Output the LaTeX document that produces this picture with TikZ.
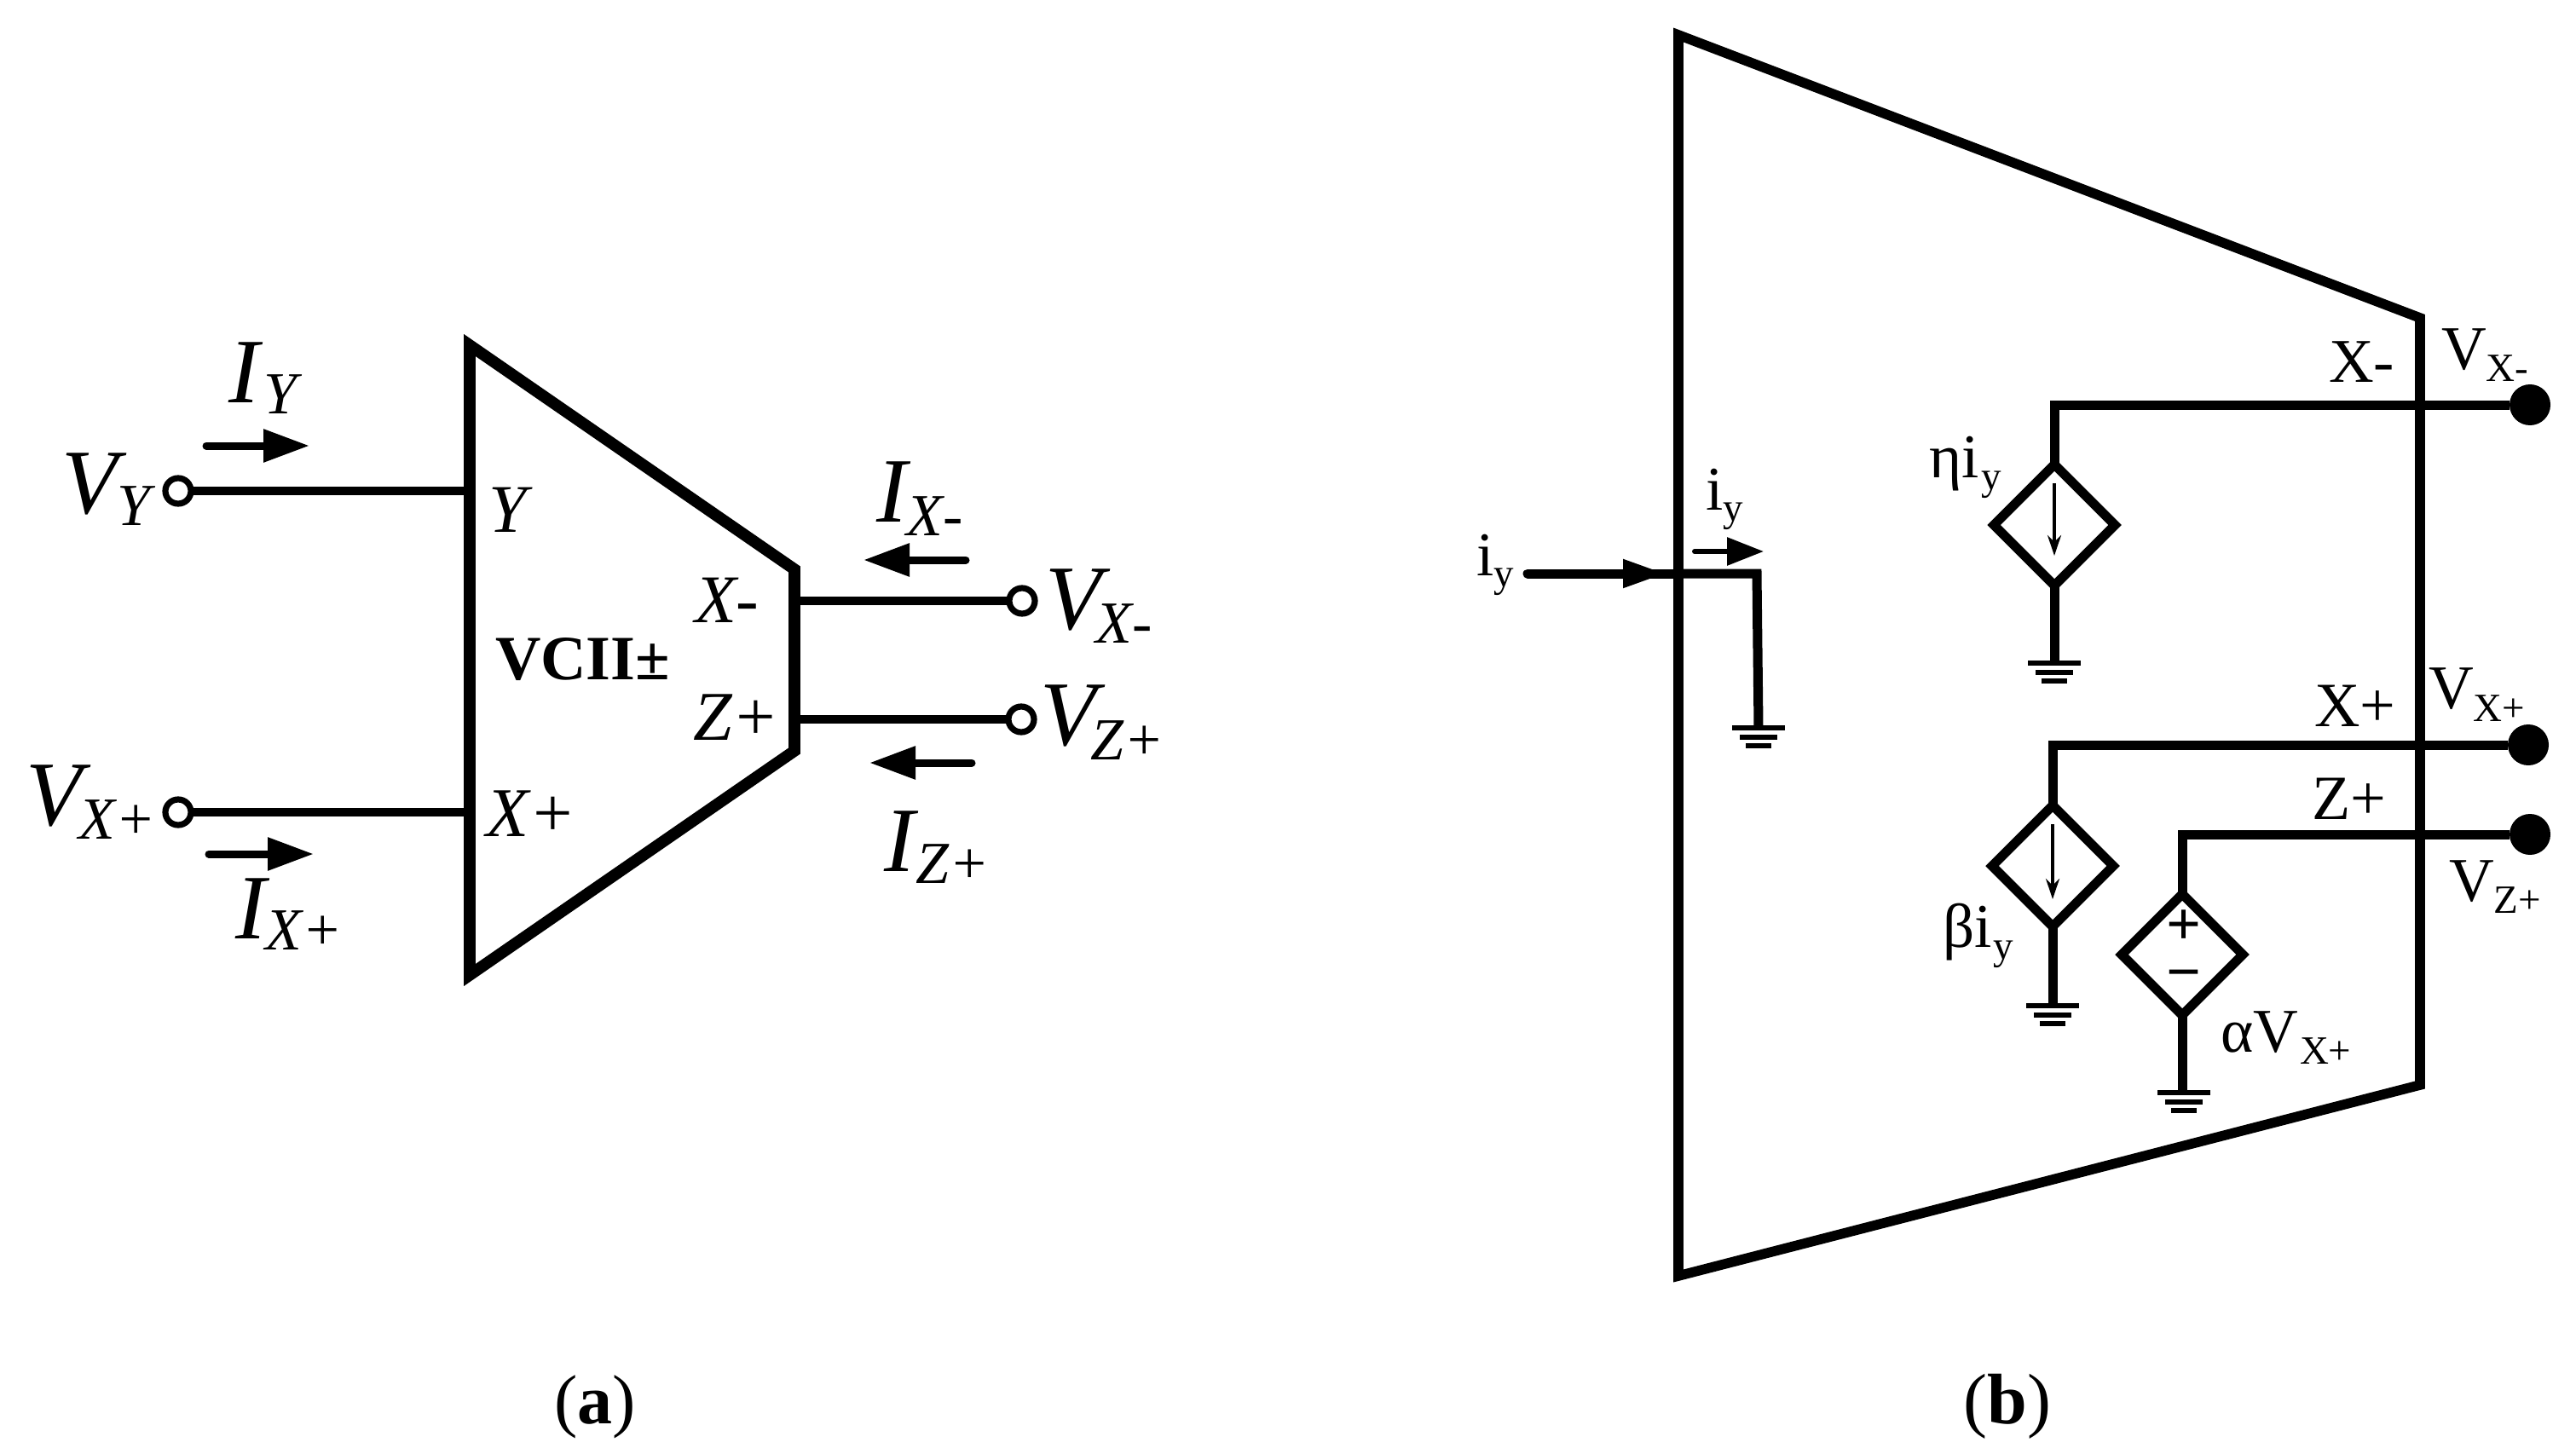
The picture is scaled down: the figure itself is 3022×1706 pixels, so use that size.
\documentclass[tikz,border=0pt]{standalone}
\usepackage{fontspec}
\setmainfont{Liberation Serif}
\usetikzlibrary{arrows.meta,shapes.geometric}
% all coordinates are reference pixels; 1 px = 0.5 pt
\newcommand{\fs}[1]{\fontsize{#1pt}{#1pt}\selectfont}
% kern(pt), drop(pt), main, sub : italic labels of panel (a)
\newcommand{\ilab}[4]{{\fs{54}\itshape #3}\kern#1pt\raisebox{-#2pt}{\fs{35}\itshape #4}}
% upright labels of panel (b): kern, drop, main, sub
\newcommand{\rlab}[4]{{\fs{36.5}#3}\kern#1pt\raisebox{-#2pt}{\fs{23.5}#4}}
\tikzset{
  x=0.5pt,y=-0.5pt,
  every node/.style={inner sep=0pt,outer sep=0pt},
  txt/.style={anchor=base west},
  box/.style={line width=6.8pt,line join=miter,black},
  boxb/.style={line width=5.8pt,line join=miter,black},
  wire/.style={line width=4.6pt,black},
  wireb/.style={line width=5.5pt,black,line join=miter},
  open/.style={circle,draw=black,line width=3.6pt,fill=white,minimum size=15pt},
  solid dot/.style={circle,fill=black,minimum size=24pt},
  cur/.style={line width=4.5pt,black,line cap=round,-{Triangle[length=27pt,width=18.5pt]}},
  curb/.style={line width=3pt,black,line cap=round,-{Triangle[length=21.5pt,width=16pt]}},
  src/.style={diamond,draw=black,line width=5.5pt,minimum width=71pt,minimum height=71pt,aspect=1},
  inner arrow/.style={line width=1.6pt,black,-{Stealth[length=12pt,width=8pt]}},
  gbar/.style={line width=3pt,black},
}
\begin{document}
\begin{tikzpicture}
\useasboundingbox (0,0) rectangle (3022,1706);
%--------------- panel (a)
\draw[box] (551,405) -- (932,668) -- (932,881) -- (551,1144) -- cycle;
\coordinate (aY) at (551,576); \coordinate (aXp) at (551,953);
\coordinate (aXm) at (932,705); \coordinate (aZp) at (932,844);
\node[open] (tY) at (209,576) {};
\node[open] (tXp) at (209,953) {};
\node[open] (tXm) at (1199,705) {};
\node[open] (tZp) at (1198,844) {};
\draw[wire] (tY) -- (aY);
\draw[wire] (tXp) -- (aXp);
\draw[wire] (tXm) -- (aXm);
\draw[wire] (tZp) -- (aZp);
\coordinate (a1s) at (242,523); \coordinate (a1e) at (363,523);
\coordinate (a2s) at (245,1002); \coordinate (a2e) at (368,1002);
\coordinate (a3s) at (1133,657); \coordinate (a3e) at (1013,657);
\coordinate (a4s) at (1140,895); \coordinate (a4e) at (1020,895);
\draw[cur] (a1s) -- (a1e);
\draw[cur] (a2s) -- (a2e);
\draw[cur] (a3s) -- (a3e);
\draw[cur] (a4s) -- (a4e);
\node[txt] (lVY) at (72,602) {\ilab{0}{7}{V}{Y}};
\node[txt] (lIY) at (268,472) {\ilab{3}{6.5}{I}{Y}};
\node[txt] (lVXp) at (31,968) {\ilab{-2}{8}{V}{X+}};
\node[txt] (lIXp) at (276,1101) {\ilab{0}{6.5}{I}{X+}};
\node[txt] (lIXm) at (1028,612) {\ilab{0}{8}{I}{X-}};
\node[txt] (lVXm) at (1226,738) {\ilab{-3}{8}{V}{X-}};
\node[txt] (lVZp) at (1220,874) {\ilab{-3}{8.5}{V}{Z+}};
\node[txt] (lIZp) at (1037,1022) {\ilab{1}{7}{I}{Z+}};
\node[txt] (lpY) at (573,624) {\fs{40}\itshape Y};
\node[txt] (lpXp) at (570,981) {\fs{41}\itshape X+};
\node[txt] (lpXm) at (815,730) {\fs{40}\itshape X-};
\node[txt] (lpZp) at (813,868) {\fs{41}\itshape Z+};
\node[txt] (lVCII) at (581,797) {\fs{37}\bfseries VCII±};
\node[anchor=base] (capa) at (698,1670) {\fs{41}(\textbf{a})};
%--------------- panel (b)
\draw[boxb] (1969,41) -- (2839,373) -- (2839,1273) -- (1969,1497) -- cycle;
\coordinate (inS) at (1792,673);
\coordinate (bIn) at (1969,673);
\coordinate (inC) at (2061,673);
\coordinate (g0) at (2063,854);
\draw[wireb,line cap=round] (inS) -- (bIn);
\draw[wireb] (bIn) -- (inC) -- (g0);
\coordinate (inA) at (1900,673); \coordinate (inB) at (1952,673);
\draw[line width=1pt,-{Triangle[length=24pt,width=17pt]}] (inA) -- (inB);
\coordinate (b1s) at (1988,647); \coordinate (b1e) at (2069,647);
\draw[curb] (b1s) -- (b1e);
% ground symbols
\newcommand{\gnd}[2]{
  \draw[gbar] (#1-31,#2) -- (#1+31,#2);
  \draw[gbar] (#1-22,#2+11) -- (#1+22,#2+11);
  \draw[gbar] (#1-15,#2+21) -- (#1+15,#2+21);
}
\gnd{2063}{854}
% eta source
\node[src] (s1) at (2410,616) {};
\node[solid dot] (d1) at (2968,475) {};
\coordinate (c1) at (2410,475);
\coordinate (g1) at (2410,778);
\draw[wireb] (d1) -- (c1) -- (s1);
\draw[wireb] (s1) -- (g1);
\gnd{2410}{778}
\coordinate (i1s) at (2410,567); \coordinate (i1e) at (2410,652);
\draw[inner arrow] (i1s) -- (i1e);
% beta source
\node[src] (s2) at (2408,1016) {};
\node[solid dot] (d2) at (2966,874) {};
\coordinate (c2) at (2408,874);
\coordinate (g2) at (2408,1180);
\draw[wireb] (d2) -- (c2) -- (s2);
\draw[wireb] (s2) -- (g2);
\gnd{2408}{1180}
\coordinate (i2s) at (2408,967); \coordinate (i2e) at (2408,1055);
\draw[inner arrow] (i2s) -- (i2e);
% alpha source
\node[src] (s3) at (2560,1120) {};
\node[solid dot] (d3) at (2968,979) {};
\coordinate (c3) at (2560,979);
\coordinate (g3) at (2560,1282);
\draw[wireb] (d3) -- (c3) -- (s3);
\draw[wireb] (s3) -- (g3);
\gnd{2562}{1282}
\node (plus) at (2562,1088) {\fs{36}\bfseries +};
\node (minus) at (2562,1151) {\fs{36}\bfseries −};
% labels
\node[txt] (liy1) at (1732,675) {\rlab{0}{6.5}{i}{y}};
\node[txt] (liy2) at (2001,598) {\rlab{0}{6.5}{i}{y}};
\node[txt] (lta) at (2263,560) {\rlab{1.5}{7}{ηi}{y}};
\node[txt] (ltb) at (2279,1111) {\rlab{1}{7}{βi}{y}};
\node[txt] (ltc) at (2605,1234) {\rlab{1}{7}{αV}{X+}};
\node[txt] (lXm) at (2732,448) {\fs{36.5}X-};
\node[txt] (lXp) at (2715,852) {\fs{37}X+};
\node[txt] (lZp) at (2712,961) {\fs{37}Z+};
\node[txt] (lVxm) at (2864,433) {\rlab{0}{7}{V}{X-}};
\node[txt] (lVxp) at (2849,831) {\rlab{0}{7.5}{V}{X+}};
\node[txt] (lVzp) at (2873,1057) {\rlab{0}{7}{V}{Z+}};
\node[anchor=base] (capb) at (2355,1670) {\fs{42}(\textbf{b})};
\end{tikzpicture}
\end{document}
